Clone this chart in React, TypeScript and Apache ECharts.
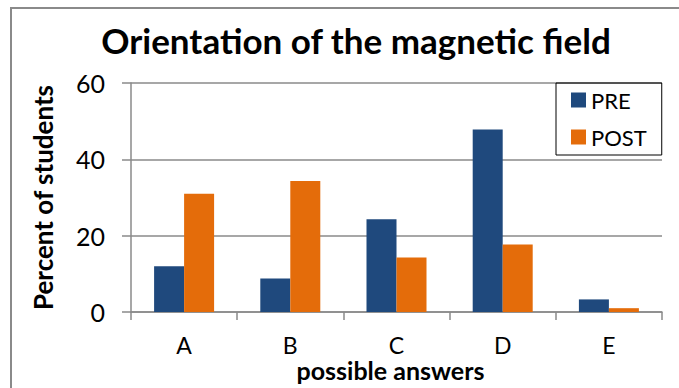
import React, { useEffect, useRef } from "react";
import * as echarts from "echarts";

const categories = ["A", "B", "C", "D", "E"];
const preValues = [12.0, 8.8, 24.3, 47.8, 3.3];
const postValues = [31.0, 34.3, 14.3, 17.7, 1.0];
const yTicks = { min: 0, max: 60, interval: 20 };

const FONT = "Lato, 'Open Sans', sans-serif";

export default function App() {
  const ref = useRef<HTMLDivElement>(null);
  useEffect(() => {
    if (!ref.current) return;
    const chart = echarts.init(ref.current, undefined, { renderer: "svg" });
    chart.setOption({
      animation: false,
      backgroundColor: "#ffffff",
      textStyle: { fontFamily: FONT },
      title: {
        text: "Orientation of the magnetic field",
        left: 351,
        top: 17,
        textAlign: "center",
        textStyle: { fontFamily: FONT, fontWeight: "bold", fontSize: 35, color: "#000" },
      },
      graphic: [
        {
          type: "rect",
          shape: { x: 11, y: 8, width: 700, height: 400 },
          style: { fill: "none", stroke: "#8a8a8a", lineWidth: 2 },
          silent: true,
          z: -1,
        },
      ],
      legend: {
        orient: "vertical",
        left: 556,
        top: 83,
        width: 107,
        padding: [6, 15, 7, 15],
        borderColor: "#000",
        borderWidth: 1,
        itemWidth: 15,
        itemHeight: 15,
        itemGap: 15,
        icon: "rect",
        textStyle: { fontFamily: FONT, fontSize: 22, color: "#000", padding: [0, 0, 0, 0] },
        data: ["PRE", "POST"],
      },
      grid: {
        left: 131,
        right: 17,
        top: 83,
        bottom: 76,
        containLabel: false,
        outerBoundsMode: "none",
      },
      xAxis: {
        type: "category",
        data: categories,
        name: "possible answers",
        nameLocation: "middle",
        nameGap: 45,
        nameMoveOverlap: false,
        nameTextStyle: {
          fontFamily: FONT,
          fontWeight: "bold",
          fontSize: 25,
          color: "#000",
          padding: [0, 12, 0, 0],
        },
        axisLine: { show: true, lineStyle: { color: "#8a8a8a", width: 1.5 } },
        axisTick: { show: true, length: 8, lineStyle: { color: "#8a8a8a", width: 1.5 } },
        axisLabel: { fontFamily: FONT, fontSize: 23, color: "#000", margin: 21 },
      },
      yAxis: {
        type: "value",
        min: yTicks.min,
        max: yTicks.max,
        interval: yTicks.interval,
        name: "Percent of students",
        nameLocation: "middle",
        nameRotate: 90,
        nameGap: 75,
        nameMoveOverlap: false,
        nameTextStyle: { fontFamily: FONT, fontWeight: "bold", fontSize: 26, color: "#000" },
        axisLine: { show: true, lineStyle: { color: "#8a8a8a", width: 1.5 } },
        axisTick: { show: true, length: 9, lineStyle: { color: "#8a8a8a", width: 1.5 } },
        axisLabel: { fontFamily: FONT, fontSize: 25, color: "#000", margin: 26 },
        splitLine: { show: true, lineStyle: { color: "#8a8a8a", width: 1.5 } },
      },
      series: [
        {
          name: "PRE",
          type: "bar",
          data: preValues,
          barWidth: 30,
          barGap: "0%",
          itemStyle: { color: "#1f497d" },
        },
        {
          name: "POST",
          type: "bar",
          data: postValues,
          barWidth: 30,
          itemStyle: { color: "#e46c0a" },
        },
      ],
    });
    return () => chart.dispose();
  }, []);
  return <div ref={ref} style={{ width: 679, height: 388, position: "absolute", left: 0, top: 0 }} />;
}
